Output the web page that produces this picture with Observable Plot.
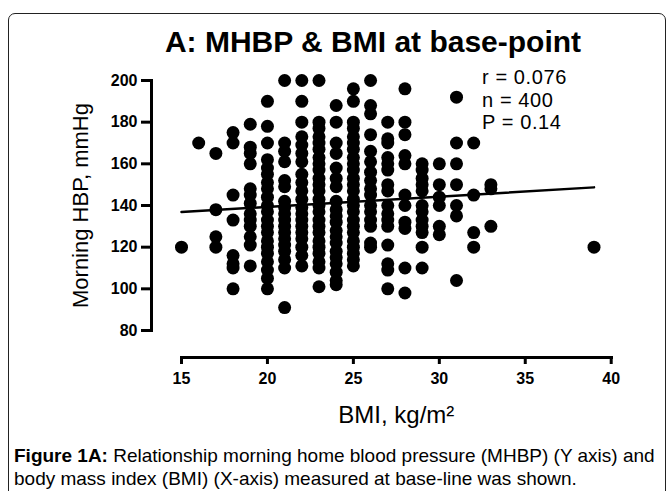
<!DOCTYPE html>
<html><head><meta charset="utf-8">
<script src="https://cdn.jsdelivr.net/npm/d3@7"></script>
<script src="https://cdn.jsdelivr.net/npm/@observablehq/plot@0.6"></script>
<style>
html,body{margin:0;padding:0;background:#fff;}
#wrap{position:relative;width:667px;height:491px;overflow:hidden;font-family:"Liberation Sans",Arial,sans-serif;color:#000;}
#frame{position:absolute;left:8px;top:13px;width:658px;height:540px;box-sizing:border-box;border:1.5px solid #222;border-radius:7px 7px 0 0;}
#chart{position:absolute;left:0;top:0;}
#title{position:absolute;left:373px;top:27px;transform:translateX(-50%);white-space:nowrap;font-size:30px;line-height:30px;font-weight:bold;}
#stats{position:absolute;left:482px;top:66px;font-size:20px;line-height:22.5px;letter-spacing:0.6px;}
#caption{position:absolute;left:14px;top:444px;width:652px;font-size:19px;line-height:23px;white-space:nowrap;}
</style></head>
<body>
<div id="wrap">
  <div id="frame"></div>
  <div id="chart"></div>
  <div id="title"></div>
  <div id="stats"></div>
  <div id="caption"></div>
</div>
<script>
const title = "A: MHBP & BMI at base-point";
const statsLines = ["r = 0.076", "n = 400", "P = 0.14"];
const xLabel = "BMI, kg/m²";
const yLabel = "Morning HBP, mmHg";
const captionBold = "Figure 1A:";
const captionLines = [" Relationship morning home blood pressure (MHBP) (Y axis) and", "body mass index (BMI) (X-axis) measured at base-line was shown."];
const xTicks = [15, 20, 25, 30, 35, 40];
const yTicks = [80, 100, 120, 140, 160, 180, 200];

// BMI columns and the MHBP values read in each column
const bmiValues = [15,16,17,18,19,20,21,22,23,24,25,26,27,28,29,30,31,32,33,39];
const mhbpByBmi = [
  [120],
  [170],
  [165,138,125,120],
  [175,170,145,133,116,112,110,100],
  [179,168,165,160,148,145,141,136,133,130,125,121,111],
  [190,178,170,162,158,155,151,148,144,140,137,133,130,127,123,120,117,113,109,105,100],
  [200,170,166,161,152,149,142,139,136,133,130,127,124,121,118,114,110,91],
  [200,190,180,173,169,165,161,155,151,147,143,139,136,133,130,127,124,120,116,111],
  [200,180,177,173,170,167,163,160,157,153,150,147,143,140,137,133,130,127,123,120,117,113,110,101],
  [188,180,170,165,158,153,149,142,138,135,132,128,125,122,118,115,112,108,104,102],
  [196,190,180,177,173,170,167,163,160,157,153,150,147,143,140,137,133,130,127,123,120,117,114,111],
  [200,188,184,174,166,161,156,152,148,145,140,137,133,130,122,120],
  [180,172,170,163,160,157,150,147,140,136,133,130,121,112,109,100],
  [196,180,174,164,160,145,140,132,129,110,98],
  [160,157,153,150,147,140,137,133,130,127,120,110],
  [160,150,144,140,130,126],
  [192,170,160,150,140,135,104],
  [170,145,127,120],
  [150,148,130],
  [120]
];
const fitBmi = [15, 39];
const fitMhbp = [136.9, 148.7];

const points = bmiValues.flatMap((b, i) => mhbpByBmi[i].map(v => ({bmi: b, mhbp: v})));
const fit = fitBmi.map((b, i) => ({bmi: b, mhbp: fitMhbp[i]}));

const font = "'Liberation Sans', Arial, sans-serif";
const plot = Plot.plot({
  width: 667, height: 440,
  marginTop: 80, marginLeft: 151, marginRight: 56, marginBottom: 83,
  style: {background: "transparent", fontFamily: font, overflow: "visible", color: "#000"},
  x: {domain: [xTicks[0], xTicks[xTicks.length-1]], range: [181, 610.7]},
  y: {domain: [yTicks[0], yTicks[yTicks.length-1]], range: [330, 80]},
  marks: [
    Plot.frame({anchor: "left", insetBottom: 27, strokeWidth: 3, stroke: "#000"}),
    Plot.frame({anchor: "bottom", insetLeft: 30, strokeWidth: 3, stroke: "#000"}),
    Plot.axisY({ticks: yTicks, tickSize: 10, tickPadding: 4, strokeWidth: 3, fontSize: 16, fontWeight: "bold", label: null}),
    Plot.axisX({ticks: xTicks, tickSize: 7, tickPadding: 8, strokeWidth: 3, fontSize: 16, fontWeight: "bold", label: null}),
    Plot.dot(points, {x: "bmi", y: "mhbp", r: 6.5, fill: "#000"}),
    Plot.line(fit, {x: "bmi", y: "mhbp", stroke: "#000", strokeWidth: 2.5}),
    Plot.text([yLabel], {frameAnchor: "left", y: [(yTicks[0] + yTicks[yTicks.length-1]) / 2], dx: -71, rotate: -90, textAnchor: "middle", lineAnchor: "middle", fontSize: 22, fill: "#000"}),
    Plot.text([xLabel], {x: [(xTicks[0] + xTicks[xTicks.length-1]) / 2], frameAnchor: "bottom", textAnchor: "middle", lineAnchor: "middle", dy: 58, fontSize: 24, fill: "#000"})
  ]
});
document.getElementById("chart").appendChild(plot);
document.getElementById("title").textContent = title;
document.getElementById("stats").innerHTML = statsLines.map(s => `<div>${s}</div>`).join("");
const cap = document.getElementById("caption");
const b = document.createElement("b"); b.textContent = captionBold;
cap.appendChild(b);
cap.appendChild(document.createTextNode(captionLines[0]));
cap.appendChild(document.createElement("br"));
cap.appendChild(document.createTextNode(captionLines[1]));
</script>
</body></html>
